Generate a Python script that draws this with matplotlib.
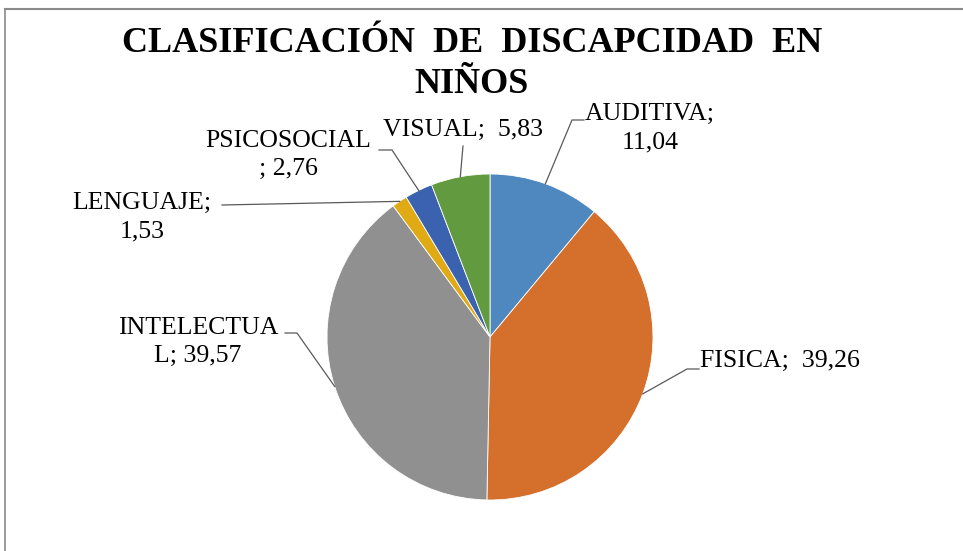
import numpy as np
import matplotlib
matplotlib.use("Agg")
import matplotlib.pyplot as plt
from matplotlib.lines import Line2D

# data
categories = ["AUDITIVA", "FISICA", "INTELECTUAL", "LENGUAJE", "PSICOSOCIAL", "VISUAL"]
values = [11.04, 39.26, 39.57, 1.53, 2.76, 5.83]
label_texts = [
    "AUDITIVA;\n11,04",
    "FISICA;  39,26",
    "INTELECTUA\nL; 39,57",
    "LENGUAJE;\n1,53",
    "PSICOSOCIAL\n; 2,76",
    "VISUAL;  5,83",
]
colors = ["#4F88BF", "#D46F2C", "#909090", "#E0AA14", "#3B62AE", "#629A40"]

# layout (pixel coords, y measured from bottom)
W, H = 963, 551
center = (490, H - 337)
radius = 163
# (elbow x, elbow y, end x, text x, text y, ha)
label_layout = [
    (572, H - 120, 584, 650, H - 128, "center"),
    (687, H - 369, 699, 700, H - 361, "left"),
    (297, H - 333, 285, 198, H - 342, "center"),
    (222, H - 205, 222, 142, H - 217, "center"),
    (392, H - 150, 379, 288, H - 155, "center"),
    (463, H - 146, 463, 463, H - 130, "center"),
]

plt.rcParams["font.family"] = ["Liberation Serif", "DejaVu Serif"]

fig = plt.figure(figsize=(W / 100, H / 100), dpi=100)
ax = fig.add_axes([0, 0, 1, 1])
wedges, _ = ax.pie(values, startangle=90, counterclock=False, center=center,
                   radius=radius, colors=colors,
                   wedgeprops=dict(edgecolor="white", linewidth=0.6))
ax.set_xlim(0, W)
ax.set_ylim(0, H)
ax.set_aspect("equal")
ax.axis("off")

# leader lines + labels
for w, txt, (ex, ey, endx, tx, ty, ha) in zip(wedges, label_texts, label_layout):
    mid = np.deg2rad((w.theta1 + w.theta2) / 2)
    px = center[0] + radius * np.cos(mid)
    py = center[1] + radius * np.sin(mid)
    ax.plot([px, ex, endx], [py, ey, ey], color="#595959", lw=0.9)
    ax.text(tx, ty, txt, ha=ha, va="center", fontsize=18.5,
            linespacing=1.35, color="black")

fig.text(0.49, 1 - 64 / H, "CLASIFICACIÓN  DE  DISCAPCIDAD  EN\nNIÑOS",
         ha="center", va="center", fontsize=26, fontweight="bold",
         linespacing=1.3)

# chart border (top and left visible)
fig.add_artist(Line2D([4.5 / W, 1], [1 - 8.5 / H, 1 - 8.5 / H],
                      transform=fig.transFigure, color="#8a8a8a", lw=1.5))
fig.add_artist(Line2D([4.5 / W, 4.5 / W], [0, 1 - 8.5 / H],
                      transform=fig.transFigure, color="#8a8a8a", lw=1.2))

fig.savefig("out.png", dpi=100)
